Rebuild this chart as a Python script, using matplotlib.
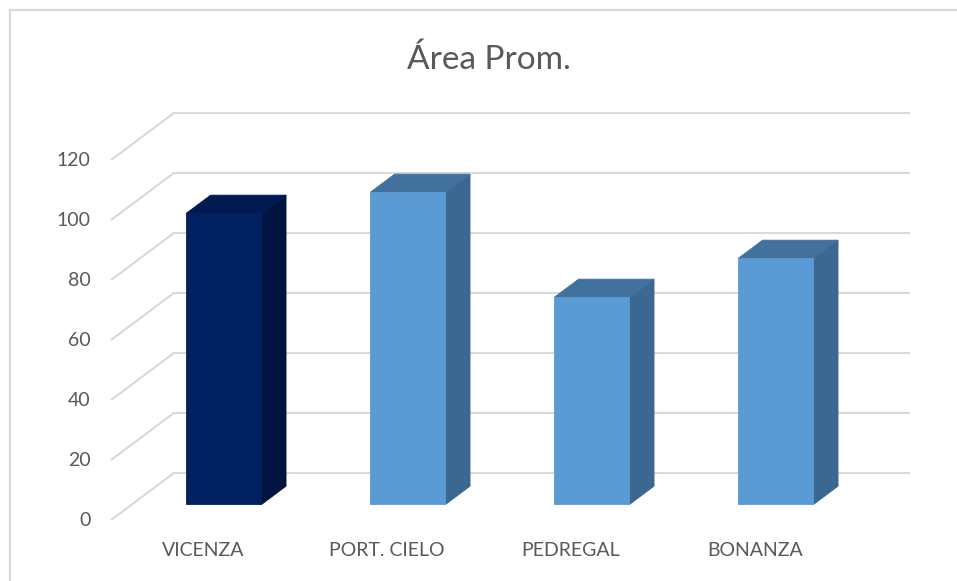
import matplotlib
matplotlib.use("Agg")
import matplotlib.pyplot as plt
from matplotlib.patches import Polygon, Rectangle

plt.rcParams['font.family'] = ['Lato', 'DejaVu Sans']

# data
categories = ['VICENZA', 'PORT. CIELO', 'PEDREGAL', 'BONANZA']
area_prom = [97, 104, 69, 82]
y_ticks = [0, 20, 40, 60, 80, 100, 120]
title = 'Área Prom.'

# colours: (front, side, top)
navy = ('#002060', '#00143f', '#001a52')
blue = ('#5b9bd5', '#3b6791', '#41719c')
bar_colors = [navy, blue, blue, blue]
grid_col = '#d9d9d9'
text_col = '#595959'

# oblique 3d: full depth of the walls in data units, bar slab inside it
DX, DY = 0.342, 15.67
d0, d1 = 0.33, 0.72
bar_w = 0.41

W, H = 957, 581
fig = plt.figure(figsize=(W / 100, H / 100), dpi=100)
ax = fig.add_axes([0, 0, 1, 1])
ax.set_xlim(-203 / 184, (W - 203) / 184)
ax.set_ylim(-61 / 3, (H - 61) / 3)
ax.axis('off')

# chart border
fig.patches.append(Rectangle((9.5 / W, -0.1), 1.2, 1 - 10 / H + 0.1,
                             transform=fig.transFigure, fill=False,
                             edgecolor='#d9d9d9', lw=1.6))

# gridlines: short diagonal on the floor side, then along the back wall
n = len(categories)
for v in y_ticks:
    ax.plot([-0.5, -0.5 + DX, n - 0.5 + DX], [v, v + DY, v + DY],
            color=grid_col, lw=1.5, zorder=1, solid_capstyle='butt')
    ax.text(-0.61, v, str(v), ha='right', va='center', fontsize=14,
            color=text_col)

for i, (val, cols) in enumerate(zip(area_prom, bar_colors)):
    x0 = i - bar_w / 2 + d0 * DX
    x1 = i + bar_w / 2 + d0 * DX
    yb = d0 * DY
    ox, oy = (d1 - d0) * DX, (d1 - d0) * DY
    front = [(x0, yb), (x1, yb), (x1, yb + val), (x0, yb + val)]
    side = [(x1, yb), (x1 + ox, yb + oy), (x1 + ox, yb + oy + val), (x1, yb + val)]
    top = [(x0, yb + val), (x1, yb + val), (x1 + ox, yb + oy + val), (x0 + ox, yb + oy + val)]
    ax.add_patch(Polygon(side, closed=True, fc=cols[1], ec=cols[1], lw=0.6, zorder=3))
    ax.add_patch(Polygon(top, closed=True, fc=cols[2], ec=cols[2], lw=0.6, zorder=3))
    ax.add_patch(Polygon(front, closed=True, fc=cols[0], ec=cols[0], lw=0.6, zorder=4))
    ax.text(i, -10.3, categories[i], ha='center', va='center', fontsize=14,
            color=text_col)

fig.text(489 / W, 1 - 60 / H, title, ha='center', va='center', fontsize=24,
         color=text_col)

fig.savefig('out.png', dpi=100)
